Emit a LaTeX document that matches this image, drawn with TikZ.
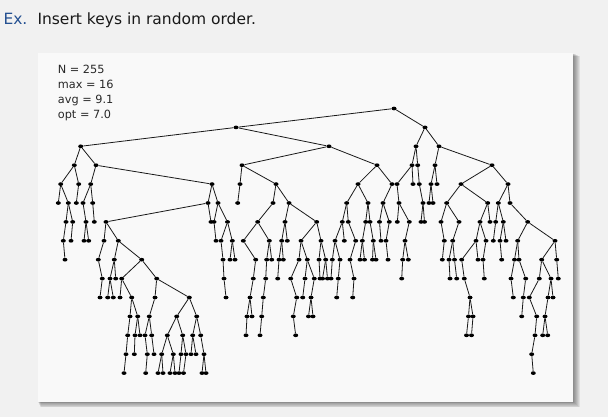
\documentclass[tikz,border=0pt]{standalone}
\usepackage{fontspec}
\setmainfont{DejaVu Sans}
\usetikzlibrary{shapes.geometric}
\definecolor{bgc}{RGB}{241,241,241}
\definecolor{panelc}{RGB}{249,249,249}
\definecolor{exblue}{RGB}{36,80,145}
\definecolor{statc}{RGB}{40,40,40}
\tikzset{
  dot/.style={ellipse,fill=black,inner sep=0pt,minimum width=5pt,minimum height=3.7pt},
  edge/.style={draw=black!90,line width=0.8pt},
  stat/.style={anchor=base west,inner sep=0pt,text=statc,font=\fontsize{11.3}{13}\selectfont}
}
\newcommand\nd[3]{\node[dot] (n#1) at ({#1/10},{108.5+18.9*#2}) {};\draw[edge] (n#3) -- (n#1);}
\begin{document}
\begin{tikzpicture}[x=1pt,y=-1pt]
\useasboundingbox (0,0) rectangle (608,417);
\fill[bgc] (0,0) rectangle (608,417);
% panel shadow
\foreach \i in {1,...,7}{\fill[black,opacity=0.07] ({37.7+0.4*\i},{53.3+0.4*\i}) rectangle ({573.3+\i},{401.7+0.8*\i});}
\fill[panelc] (37.7,53.3) rectangle (573.3,401.7);
% title
\node[anchor=base west,inner sep=0pt,text=exblue,font=\fontsize{15.5}{18}\selectfont] (ex) at (3.3,25) {Ex.};
\node[anchor=base west,inner sep=0pt,text=black!90,font=\fontsize{15.5}{18}\selectfont] (title) at (37.3,25) {Insert keys in random order.};
% statistics
\node[stat] (s1) at (57.7,74) {N = 255};
\node[stat] (s2) at (57.7,88.7) {max = 16};
\node[stat] (s3) at (57.7,103.4) {avg = 9.1};
\node[stat] (s4) at (57.7,118.1) {opt = 7.0};
% tree
\node[dot] (n3940) at (394,108.5) {};
\nd{2360}{1}{3940}\nd{4250}{1}{3940}
\nd{807}{2}{2360}\nd{3290}{2}{2360}\nd{4160}{2}{4250}\nd{4390}{2}{4250}
\nd{743}{3}{807}\nd{960}{3}{807}\nd{2420}{3}{3290}\nd{3770}{3}{3290}\nd{4120}{3}{4160}\nd{4177}{3}{4160}\nd{4350}{3}{4390}\nd{4920}{3}{4390}
\nd{607}{4}{743}\nd{787}{4}{743}\nd{907}{4}{960}\nd{2120}{4}{960}\nd{2400}{4}{2420}\nd{2760}{4}{2420}\nd{3580}{4}{3770}\nd{3920}{4}{3770}\nd{3970}{4}{4120}\nd{4130}{4}{4120}\nd{4193}{4}{4177}\nd{4310}{4}{4350}\nd{4370}{4}{4350}\nd{4610}{4}{4920}\nd{5080}{4}{4920}
\nd{583}{5}{607}\nd{683}{5}{607}\nd{763}{5}{787}\nd{830}{5}{907}\nd{927}{5}{907}\nd{2080}{5}{2120}\nd{2180}{5}{2120}\nd{2377}{5}{2400}\nd{2730}{5}{2760}\nd{2890}{5}{2760}\nd{3467}{5}{3580}\nd{3680}{5}{3580}\nd{3830}{5}{3920}\nd{3990}{5}{3970}\nd{4230}{5}{4193}\nd{4290}{5}{4310}\nd{4330}{5}{4310}\nd{4467}{5}{4610}\nd{4877}{5}{4610}\nd{4983}{5}{5080}\nd{5100}{5}{5080}
\nd{660}{6}{683}\nd{727}{6}{683}\nd{860}{6}{830}\nd{943}{6}{927}\nd{1060}{6}{2080}\nd{2110}{6}{2080}\nd{2140}{6}{2180}\nd{2275}{6}{2180}\nd{2577}{6}{2730}\nd{2850}{6}{2890}\nd{3167}{6}{2890}\nd{3423}{6}{3467}\nd{3483}{6}{3467}\nd{3657}{6}{3680}\nd{3700}{6}{3680}\nd{3795}{6}{3830}\nd{3893}{6}{3830}\nd{3973}{6}{3990}\nd{4093}{6}{3990}\nd{4210}{6}{4230}\nd{4245}{6}{4230}\nd{4410}{6}{4467}\nd{4590}{6}{4467}\nd{4800}{6}{4877}\nd{4900}{6}{4877}\nd{4957}{6}{4983}\nd{5033}{6}{4983}\nd{5277}{6}{5100}
\nd{633}{7}{660}\nd{710}{7}{727}\nd{840}{7}{860}\nd{887}{7}{860}\nd{1040}{7}{1060}\nd{1183}{7}{1060}\nd{2160}{7}{2140}\nd{2210}{7}{2275}\nd{2323}{7}{2275}\nd{2433}{7}{2577}\nd{2693}{7}{2577}\nd{2817}{7}{2850}\nd{2873}{7}{2850}\nd{3010}{7}{3167}\nd{3210}{7}{3167}\nd{3350}{7}{3423}\nd{3443}{7}{3423}\nd{3557}{7}{3483}\nd{3623}{7}{3657}\nd{3733}{7}{3700}\nd{3810}{7}{3795}\nd{3860}{7}{3893}\nd{4050}{7}{4093}\nd{4443}{7}{4410}\nd{4527}{7}{4590}\nd{4760}{7}{4800}\nd{4860}{7}{4800}\nd{4933}{7}{4957}\nd{5000}{7}{5033}\nd{5060}{7}{5033}\nd{5177}{7}{5277}\nd{5550}{7}{5277}
\nd{650}{8}{633}\nd{983}{8}{1040}\nd{1143}{8}{1183}\nd{1417}{8}{1183}\nd{2230}{8}{2210}\nd{2300}{8}{2323}\nd{2350}{8}{2323}\nd{2557}{8}{2433}\nd{2667}{8}{2693}\nd{2717}{8}{2693}\nd{2790}{8}{2817}\nd{2833}{8}{2817}\nd{2990}{8}{3010}\nd{3073}{8}{3010}\nd{3190}{8}{3210}\nd{3257}{8}{3210}\nd{3323}{8}{3350}\nd{3400}{8}{3350}\nd{3500}{8}{3557}\nd{3600}{8}{3623}\nd{3645}{8}{3623}\nd{3725}{8}{3733}\nd{3760}{8}{3733}\nd{3880}{8}{3860}\nd{4027}{8}{4050}\nd{4083}{8}{4050}\nd{4423}{8}{4443}\nd{4490}{8}{4527}\nd{4545}{8}{4527}\nd{4617}{8}{4760}\nd{4780}{8}{4760}\nd{4830}{8}{4860}\nd{5017}{8}{5000}\nd{5145}{8}{5177}\nd{5190}{8}{5177}\nd{5417}{8}{5550}\nd{5567}{8}{5550}
\nd{1023}{9}{983}\nd{1100}{9}{1143}\nd{1157}{9}{1143}\nd{1217}{9}{1417}\nd{1567}{9}{1417}\nd{2240}{9}{2230}\nd{2533}{9}{2557}\nd{2657}{9}{2667}\nd{2777}{9}{2790}\nd{2907}{9}{2990}\nd{3050}{9}{3073}\nd{3143}{9}{3073}\nd{3200}{9}{3190}\nd{3225}{9}{3257}\nd{3275}{9}{3257}\nd{3310}{9}{3323}\nd{3383}{9}{3400}\nd{3540}{9}{3500}\nd{4017}{9}{4027}\nd{4500}{9}{4490}\nd{4567}{9}{4545}\nd{4643}{9}{4617}\nd{4843}{9}{4830}\nd{5110}{9}{5145}\nd{5257}{9}{5190}\nd{5393}{9}{5417}\nd{5510}{9}{5417}\nd{5583}{9}{5567}
\nd{1000}{10}{1023}\nd{1077}{10}{1100}\nd{1133}{10}{1100}\nd{1200}{10}{1217}\nd{1317}{10}{1217}\nd{1550}{10}{1567}\nd{1893}{10}{1567}\nd{2260}{10}{2240}\nd{2500}{10}{2533}\nd{2633}{10}{2657}\nd{2967}{10}{2907}\nd{3027}{10}{3050}\nd{3110}{10}{3143}\nd{3367}{10}{3383}\nd{3527}{10}{3540}\nd{4700}{10}{4643}\nd{5133}{10}{5110}\nd{5233}{10}{5257}\nd{5293}{10}{5393}\nd{5480}{10}{5510}\nd{5530}{10}{5510}
\nd{1300}{11}{1317}\nd{1377}{11}{1317}\nd{1493}{11}{1550}\nd{1767}{11}{1893}\nd{1967}{11}{1893}\nd{2470}{11}{2500}\nd{2520}{11}{2500}\nd{2617}{11}{2633}\nd{2933}{11}{2967}\nd{3085}{11}{3110}\nd{3130}{11}{3110}\nd{4685}{11}{4700}\nd{4730}{11}{4700}\nd{5217}{11}{5233}\nd{5367}{11}{5293}\nd{5450}{11}{5480}
\nd{1277}{12}{1300}\nd{1350}{12}{1377}\nd{1400}{12}{1377}\nd{1450}{12}{1493}\nd{1517}{12}{1493}\nd{1673}{12}{1767}\nd{1827}{12}{1767}\nd{1927}{12}{1967}\nd{2007}{12}{1967}\nd{2460}{12}{2470}\nd{2600}{12}{2617}\nd{2957}{12}{2933}\nd{4665}{12}{4685}\nd{4715}{12}{4730}\nd{5350}{12}{5367}\nd{5427}{12}{5450}\nd{5477}{12}{5450}
\nd{1260}{13}{1277}\nd{1343}{13}{1350}\nd{1473}{13}{1450}\nd{1540}{13}{1517}\nd{1617}{13}{1673}\nd{1733}{13}{1673}\nd{1810}{13}{1827}\nd{1860}{13}{1827}\nd{1910}{13}{1927}\nd{1960}{13}{1927}\nd{2040}{13}{2007}\nd{5317}{13}{5350}
\nd{1240}{14}{1260}\nd{1457}{14}{1473}\nd{1580}{14}{1617}\nd{1630}{14}{1617}\nd{1700}{14}{1733}\nd{1750}{14}{1733}\nd{1790}{14}{1810}\nd{1835}{14}{1860}\nd{2020}{14}{2040}\nd{2060}{14}{2040}\nd{5333}{14}{5317}
\end{tikzpicture}
\end{document}
